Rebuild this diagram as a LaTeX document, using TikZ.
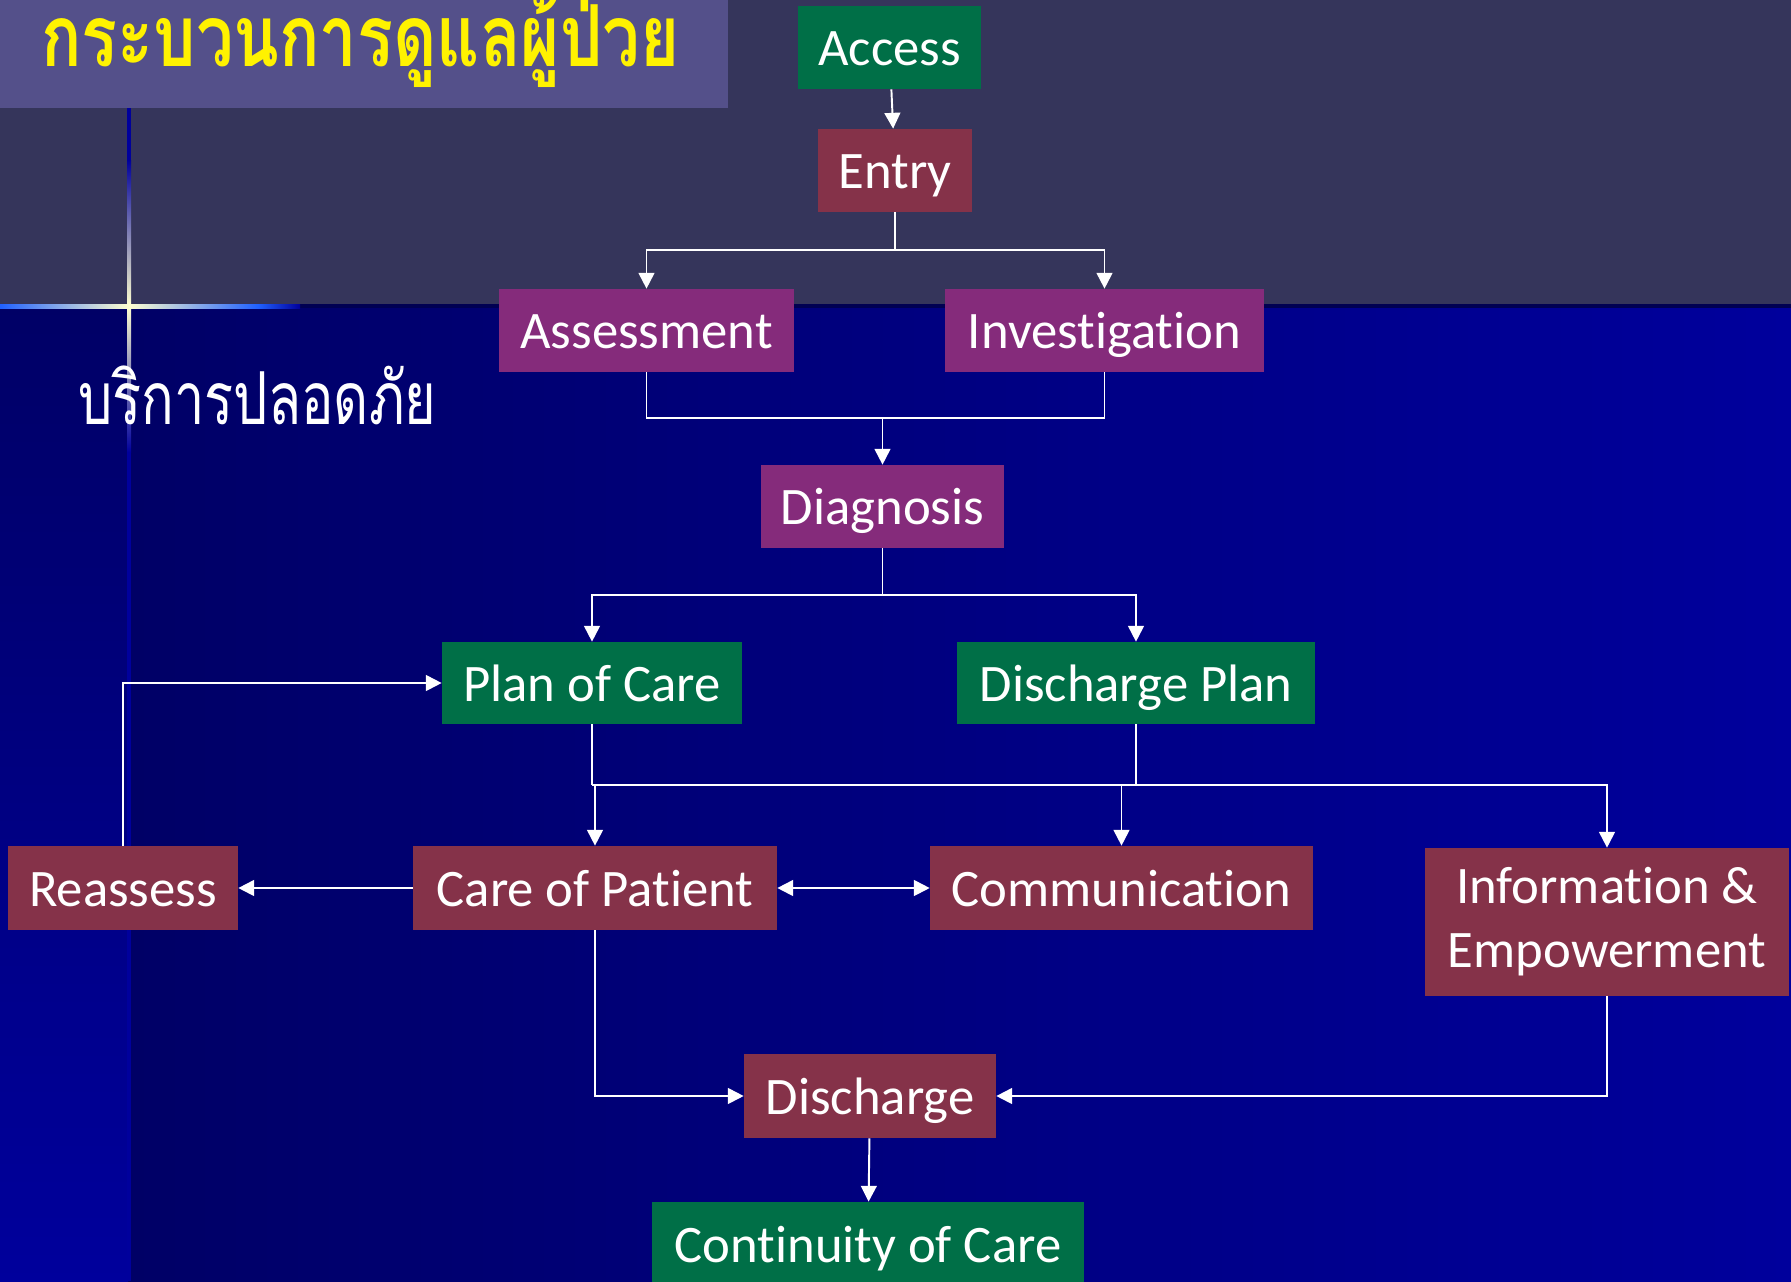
\documentclass[tikz,border=0pt]{standalone}
\usepackage{xcolor}
\usepackage{graphicx}
\usepackage{fontspec}
\usepackage{tikz}
\usetikzlibrary{calc}
\usetikzlibrary{arrows.meta}
\newfontfamily\flowfamily[Ligatures=NoCommon]{Carlito}
\newfontfamily\thaifont[Script=Thai]{Loma}
\newcommand{\flowfont}{\flowfamily\fontsize{30}{36.4}\selectfont}
\definecolor{topbg}{HTML}{35355B}
\definecolor{titlebg}{HTML}{54508A}
\definecolor{navydark}{HTML}{000066}
\definecolor{navylight}{HTML}{00009C}
\definecolor{starcol}{HTML}{FFFFD0}
\definecolor{glowblue}{HTML}{2060FF}
\definecolor{titleyellow}{HTML}{FFF200}
\definecolor{boxgreen}{HTML}{006F47}
\definecolor{boxred}{HTML}{853249}
\definecolor{boxpurple}{HTML}{852B7B}
\tikzset{
	box/.style={rectangle,inner sep=0pt,minimum height=1.66cm,text=white,font=\flowfont},
	oneline/.style={text height=24pt,text depth=3.5pt},
	gbox/.style={box,oneline,fill=boxgreen},
	rbox/.style={box,oneline,fill=boxred},
	pbox/.style={box,oneline,fill=boxpurple},
	arr/.style={draw=white,line width=1.1pt,-{Triangle[length=9pt,width=9pt]}},
	arrtwo/.style={draw=white,line width=1.1pt,{Triangle[length=9pt,width=9pt]}-{Triangle[length=9pt,width=9pt]}},
	wire/.style={draw=white,line width=1.1pt}
}
\begin{document}
\begin{tikzpicture}[x=0.02cm,y=-0.02cm]
		\useasboundingbox (0,0) rectangle (1791,1281);
		\fill[topbg] (0,0) rectangle (1791,306);
		\shade[left color=navydark,right color=navylight] (128,306) rectangle (1791,1281);
		\shade[top color=navydark,bottom color=navylight] (0,306) rectangle (128,1281);
		\draw[line width=2pt,color=navydark!80!black] (0,306)--(1791,306);
		\fill[navylight] (127,108) rectangle (131,1281);
		\shade[top color=navylight,bottom color=navylight,middle color=starcol] (127,160) rectangle (131,452);
		\shade[left color=glowblue,right color=glowblue,middle color=starcol] (0,304) rectangle (258,308);
		\shade[left color=glowblue,right color=navylight] (258,304) rectangle (300,308);
		\fill[titlebg] (0,0) rectangle (728,108);
		\node[anchor=north west,inner sep=0pt,text=titleyellow] (title) at (41,-5) {\resizebox*{12.76cm}{1.85cm}{\thaifont\bfseries กระบวนการดูแลผู้ป่วย}};
		\node[anchor=north west,inner sep=0pt,text=white] (safe) at (78,366) {\resizebox*{7.16cm}{1.18cm}{\thaifont บริการปลอดภัย}};

		\node[gbox,minimum width=3.66cm] (access) at (889.5,47.5) {Access};
		\node[rbox,minimum width=3.08cm] (entry) at (895,170.5) {Entry};
		\node[pbox,minimum width=5.90cm] (assess) at (646.5,330.5) {Assessment};
		\node[pbox,minimum width=6.38cm] (invest) at (1104.5,330.5) {Investigation};
		\node[pbox,minimum width=4.86cm] (diag) at (882.5,506.5) {Diagnosis};
		\node[gbox,minimum width=6.00cm,minimum height=1.64cm] (plan) at (592,683) {Plan of Care};
		\node[gbox,minimum width=7.16cm,minimum height=1.64cm] (dplan) at (1136,683) {Discharge Plan};
		\node[rbox,minimum width=4.60cm,minimum height=1.68cm] (reas) at (123,888) {Reassess};
		\node[rbox,minimum width=7.28cm,minimum height=1.68cm] (care) at (595,888) {Care of Patient};
		\node[rbox,minimum width=7.66cm,minimum height=1.68cm] (comm) at (1121.5,888) {Communication};
		\node[box,fill=boxred,minimum width=7.28cm,minimum height=2.96cm,align=center] (info) at (1607,922) {Information \&\\Empowerment};
		\node[rbox,minimum width=5.04cm,minimum height=1.68cm] (disch) at (870,1096) {Discharge};
		\node[gbox,minimum width=8.64cm,minimum height=1.68cm] (cont) at (868,1244) {Continuity of Care};

		\coordinate (m1) at (895,250);
		\coordinate (m2) at (882.5,418);
		\coordinate (m3) at (882.5,595);
		\coordinate (m4) at (592,785);

		\draw[arr] (access)--(entry);
		\draw[wire] (entry.south)--(m1);
		\draw[arr] (m1)-|(assess.north);
		\draw[arr] (m1)-|(invest.north);
		\draw[wire] (assess.south)|-(m2)-|(invest.south);
		\draw[arr] (m2)--(diag.north);
		\draw[wire] (diag.south)--(m3);
		\draw[arr] (m3)-|(plan.north);
		\draw[arr] (m3)-|(dplan.north);
		\draw[wire] (plan.south)--(m4);
		\draw[arr] (m4)-|(info.north);
		\draw[wire] (dplan.south)--(dplan.south|-m4);
		\draw[arr] (care.north|-m4)--(care.north);
		\draw[arr] (comm.north|-m4)--(comm.north);
		\draw[arrtwo] (care)--(comm);
		\draw[arr] (care)--(reas);
		\draw[arr] (reas.north)|-(plan.west);
		\draw[arr] (care.south)|-(disch.west);
		\draw[arr] (info.south)|-(disch.east);
		\draw[arr] (disch)--(cont);
	\end{tikzpicture}
\end{document}
